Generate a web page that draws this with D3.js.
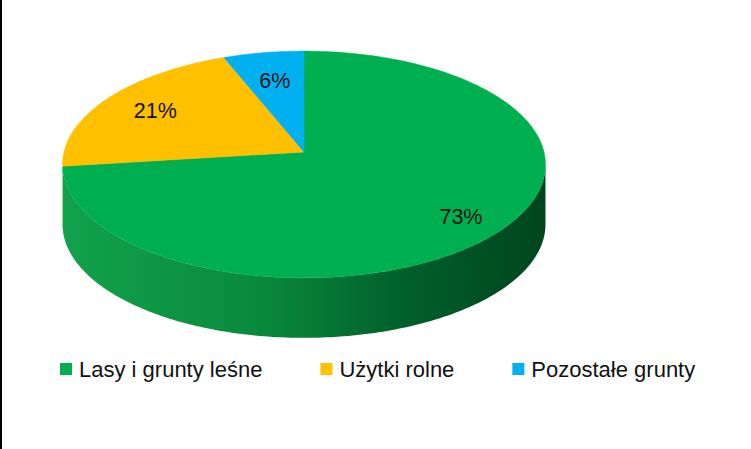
<!DOCTYPE html>
<html>
<head>
<meta charset="utf-8">
<script src="https://cdn.jsdelivr.net/npm/d3@7"></script>
<style>
  html, body { margin: 0; padding: 0; background: #fff; }
  svg { display: block; }
</style>
</head>
<body>
<script>
// Data

const categories = ['Lasy i grunty leśne', 'Użytki rolne', 'Pozostałe grunty'];
const values = [73, 21, 6];
const colors = ['#00b050', '#ffc000', '#00b0f0'];
const sideColors = [
	['#12a24b', '#0a8a3d', '#005e2a', '#00451f'],
	['#d9a300', '#c08f00', '#9a7300', '#7a5b00'],
	['#0096cc', '#0083b3', '#006a91', '#005373'],
];

// Constants

const width = 751;
const height = 449;
const cx = 304;
const cy = 152;
const rx = 240;
const ry = 112;
const persp = 0.11;
const depth = 60;
const labelRadius = [0.82, 0.75, 0.7];
const font = "'Liberation Sans', Arial, sans-serif";

const color = d3.scaleOrdinal().domain(categories).range(colors);

const arcs = d3
	.pie()
	.sort(null)
	.value((d) => d.value)(categories.map((c, i) => ({ name: c, value: values[i], i })));

// perspective projection of a point on the (unit) pie disk
const proj = (r, a, z = 0) => {
	const u = r * Math.sin(a);
	const v = -r * Math.cos(a);
	const w = 1 - persp * v;
	return [cx + (rx * u) / w, cy + z + (ry * v) / w];
};

const sample = (a0, a1, z) => {
	const n = Math.max(2, Math.ceil(Math.abs(a1 - a0) * 60));
	return d3.range(n + 1).map((j) => proj(1, a0 + ((a1 - a0) * j) / n, z));
};

const line = d3.line();

// Setup svg

const svg = d3
	.select('body')
	.append('svg')
	.attr('width', width)
	.attr('height', height)
	.attr('xmlns', 'http://www.w3.org/2000/svg');

svg.append('rect').attr('width', width).attr('height', height).attr('fill', '#fff');
svg.append('rect').attr('x', 0).attr('y', 0).attr('width', 2).attr('height', height).attr('fill', '#000');

const defs = svg.append('defs');
const xl = proj(1, Math.PI * 2 - Math.acos(-persp))[0];
const xr = proj(1, Math.acos(-persp))[0];

sideColors.forEach((cs, i) => {
	defs
		.append('linearGradient')
		.attr('id', `side${i}`)
		.attr('gradientUnits', 'userSpaceOnUse')
		.attr('x1', xl)
		.attr('x2', xr)
		.attr('y1', 0)
		.attr('y2', 0)
		.selectAll('stop')
		.data([0, 0.4, 0.72, 1])
		.join('stop')
		.attr('offset', (d) => d)
		.attr('stop-color', (d, j) => cs[j]);
});

// Side walls (front half only)

const visLo = Math.acos(-persp);
const visHi = Math.PI * 2 - visLo;

svg
	.append('g')
	.selectAll('path')
	.data(arcs.filter((d) => d.endAngle > visLo && d.startAngle < visHi))
	.join('path')
	.attr('fill', (d) => `url(#side${d.data.i})`)
	.attr('d', (d) => {
		const a0 = Math.max(d.startAngle, visLo);
		const a1 = Math.min(d.endAngle, visHi);
		const pts = sample(a0, a1, 0).concat(sample(a1, a0, depth));
		return line(pts) + 'Z';
	});

// Top faces

svg
	.append('g')
	.selectAll('path')
	.data(arcs)
	.join('path')
	.attr('fill', (d) => color(d.data.name))
	.attr('stroke', (d) => color(d.data.name))
	.attr('stroke-width', 0.5)
	.attr('d', (d) => line([[cx, cy]].concat(sample(d.startAngle, d.endAngle, 0))) + 'Z');

// Percentage labels

svg
	.append('g')
	.attr('font-family', font)
	.attr('font-size', 21.5)
	.attr('fill', '#111')
	.attr('text-anchor', 'middle')
	.selectAll('text')
	.data(arcs)
	.join('text')
	.attr('dy', '0.35em')
	.attr('x', (d) => proj(labelRadius[d.data.i], (d.startAngle + d.endAngle) / 2)[0])
	.attr('y', (d) => proj(labelRadius[d.data.i], (d.startAngle + d.endAngle) / 2)[1])
	.text((d) => `${d.data.value}%`);

// Legend

const legend = svg
	.append('g')
	.attr('font-family', font)
	.attr('font-size', 22)
	.attr('fill', '#111');

let lx = 60;
categories.forEach((c) => {
	const g = legend.append('g').attr('transform', `translate(${lx},363)`);
	g.append('rect').attr('width', 12).attr('height', 12).attr('fill', color(c));
	const t = g.append('text').attr('x', 19).attr('y', 14).text(c);
	lx += 19 + t.node().getComputedTextLength() + 58;
});
</script>
</body>
</html>
